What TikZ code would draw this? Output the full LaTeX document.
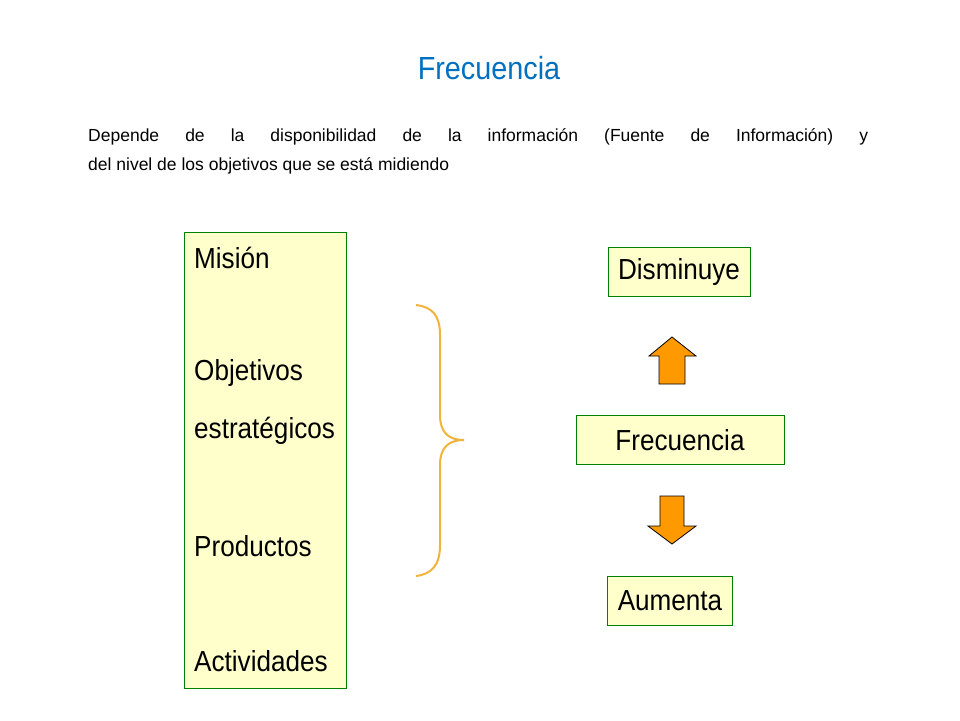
\documentclass[tikz,border=0pt]{standalone}
\usepackage{fontspec}
\setmainfont{Liberation Sans}
\newfontfamily\narrowf[FakeStretch=0.9]{Liberation Sans}
\definecolor{ttl}{RGB}{0,112,192}
\definecolor{boxy}{RGB}{255,255,204}
\definecolor{boxg}{RGB}{0,128,0}
\definecolor{orng}{RGB}{255,153,0}
\definecolor{brc}{RGB}{240,180,60}
\tikzset{yb/.style={draw=boxg,fill=boxy,line width=0.8pt,inner sep=0pt},
 lbl/.style={anchor=west,font=\narrowf\fontsize{29}{30}\selectfont,inner sep=0pt},
 blk/.style={draw=black,fill=orng,line width=0.8pt}}
\begin{document}
\begin{tikzpicture}[x=1pt,y=-1pt]
\useasboundingbox (0,0) rectangle (960,720);
\node (t) at (489,68) {\color{ttl}\fontsize{32}{34}\selectfont\narrowf Frecuencia};
\node[anchor=west,inner sep=0pt,font=\fontsize{17.5}{20}\selectfont] (p1) at (88,137) {\makebox[780pt][s]{Depende de la disponibilidad de la información (Fuente de Información) y}};
\node[anchor=west,inner sep=0pt,font=\fontsize{17.5}{20}\selectfont] (p2) at (88,166) {del nivel de los objetivos que se está midiendo};
\node[yb,minimum width=162pt,minimum height=456pt] (L) at (265,460) {};
\node[lbl] (m1) at (194,258) {Misión};
\node[lbl] (m2) at (194,373) {Objetivos};
\node[lbl] (m3) at (194,431) {estratégicos};
\node[lbl] (m4) at (194,546) {Productos};
\node[lbl] (m5) at (194,661) {Actividades};
\draw[brc,line width=2pt] (416,305) .. controls (432,307) and (440,315) .. (440,335) -- (440,415) .. controls (440,432) and (448,440) .. (464,440) .. controls (448,440) and (440,448) .. (440,465) -- (440,545) .. controls (440,565) and (432,574) .. (416,576);
\node[yb,minimum width=142pt,minimum height=49pt,font=\narrowf\fontsize{29}{30}\selectfont] (d) at (679,272) {Disminuye};
\node[yb,minimum width=208pt,minimum height=49pt,font=\narrowf\fontsize{29}{30}\selectfont] (f) at (680,440) {Frecuencia};
\node[yb,minimum width=125pt,minimum height=49pt,font=\narrowf\fontsize{29}{30}\selectfont] (a) at (670,601) {Aumenta};
\draw[blk] (659,384) -- (659,356) -- (649,356) -- (672,337) -- (696,356) -- (685,356) -- (685,384) -- cycle;
\draw[blk] (660,496) -- (660,526) -- (648,526) -- (672,544) -- (696,526) -- (684,526) -- (684,496) -- cycle;
\end{tikzpicture}
\end{document}
